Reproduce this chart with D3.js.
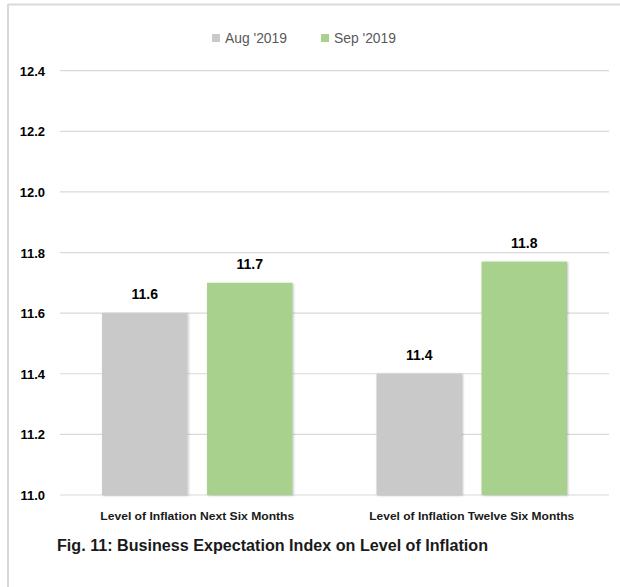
<!DOCTYPE html>
<html>
<head>
<meta charset="utf-8">
<script src="https://cdn.jsdelivr.net/npm/d3@7"></script>
<style>
  html, body { margin: 0; padding: 0; background: #fff; }
  svg { display: block; }
</style>
</head>
<body>
<svg id="chart" width="620" height="587"></svg>
<script>
// ---- data ----
const categories = ["Level of Inflation Next Six Months", "Level of Inflation Twelve Six Months"];
const seriesNames = ["Aug '2019", "Sep '2019"];
const augValues = [11.60, 11.40];
const sepValues = [11.70, 11.77];
const yTicks = [11.0, 11.2, 11.4, 11.6, 11.8, 12.0, 12.2, 12.4];
const titleText = "Fig. 11: Business Expectation Index on Level of Inflation";

const colors = { "Aug '2019": "#c9c9c9", "Sep '2019": "#a9d18e" };
const seriesValues = { "Aug '2019": augValues, "Sep '2019": sepValues };

const svg = d3.select("#chart");
const font = "'Liberation Sans', Arial, sans-serif";

// frame (top and left light border)
svg.append("line").attr("x1", 8).attr("x2", 620).attr("y1", 4.5).attr("y2", 4.5)
  .attr("stroke", "#d9d9d9").attr("stroke-width", 2);
svg.append("line").attr("x1", 8).attr("x2", 8).attr("y1", 4).attr("y2", 587)
  .attr("stroke", "#d9d9d9").attr("stroke-width", 2);

// shadow filter
const defs = svg.append("defs");
const f = defs.append("filter").attr("id", "shadow").attr("x", "-10%").attr("y", "-10%")
  .attr("width", "130%").attr("height", "130%");
f.append("feDropShadow").attr("dx", 1).attr("dy", 0.5).attr("stdDeviation", 1)
  .attr("flood-color", "#000").attr("flood-opacity", 0.25);

// scales
const y = d3.scaleLinear().domain([11.0, 12.4]).range([495, 70.7]);
const x0 = d3.scaleBand().domain(categories).range([60, 609]).paddingInner(0).paddingOuter(0);
const x1 = d3.scaleBand().domain(seriesNames).range([0, x0.bandwidth()])
  .paddingInner(0.186).paddingOuter(0.4);

// gridlines
svg.append("g").selectAll("line").data(yTicks).join("line")
  .attr("x1", 60).attr("x2", 609)
  .attr("y1", d => y(d)).attr("y2", d => y(d))
  .attr("stroke", "#d9d9d9").attr("stroke-width", 1.2);

// y axis labels
const yAxis = d3.axisLeft(y).tickValues(yTicks).tickFormat(d3.format(".1f")).tickSize(0).tickPadding(0);
const ya = svg.append("g").attr("transform", "translate(45,0)").call(yAxis);
ya.select(".domain").remove();
ya.selectAll("text").attr("font-family", font).attr("font-size", 13).attr("font-weight", "bold")
  .attr("fill", "#000").attr("dy", "0.35em");

// bars
const groups = svg.append("g").selectAll("g").data(categories).join("g")
  .attr("transform", d => `translate(${x0(d)},0)`);

groups.selectAll("rect").data((c, i) => seriesNames.map(s => ({ s, v: seriesValues[s][i] })))
  .join("rect")
  .attr("x", d => x1(d.s))
  .attr("width", x1.bandwidth())
  .attr("y", d => y(d.v))
  .attr("height", d => y(11.0) - y(d.v))
  .attr("fill", d => colors[d.s])
  .attr("filter", "url(#shadow)");

groups.selectAll("text.val").data((c, i) => seriesNames.map(s => ({ s, v: seriesValues[s][i] })))
  .join("text").attr("class", "val")
  .attr("x", d => x1(d.s) + x1.bandwidth() / 2)
  .attr("y", d => y(d.v) - 14)
  .attr("text-anchor", "middle")
  .attr("font-family", font).attr("font-size", 14).attr("font-weight", "bold")
  .attr("fill", "#000")
  .text(d => d3.format(".1f")(d.v));

// category labels
const catWidths = [194, 205];
svg.append("g").selectAll("text").data(categories).join("text")
  .attr("x", d => x0(d) + x0.bandwidth() / 2)
  .attr("y", 520)
  .attr("text-anchor", "middle")
  .attr("font-family", font).attr("font-size", 11).attr("font-weight", "bold")
  .attr("fill", "#1a1a1a")
  .attr("textLength", (d, i) => catWidths[i]).attr("lengthAdjust", "spacingAndGlyphs")
  .text(d => d);

// legend
const legendX = [212, 321];
const lg = svg.append("g").selectAll("g").data(seriesNames).join("g")
  .attr("transform", (d, i) => `translate(${legendX[i]},0)`);
lg.append("rect").attr("x", 0).attr("y", 34).attr("width", 8).attr("height", 8)
  .attr("fill", d => colors[d]);
lg.append("text").attr("x", 13).attr("y", 42.5)
  .attr("font-family", font).attr("font-size", 14).attr("fill", "#595959")
  .attr("textLength", 62).attr("lengthAdjust", "spacingAndGlyphs")
  .text(d => d);

// title
svg.append("text").attr("x", 57).attr("y", 551)
  .attr("font-family", font).attr("font-size", 16).attr("font-weight", "bold")
  .attr("fill", "#1a1a1a")
  .attr("textLength", 431).attr("lengthAdjust", "spacingAndGlyphs")
  .text(titleText);
</script>
</body>
</html>
